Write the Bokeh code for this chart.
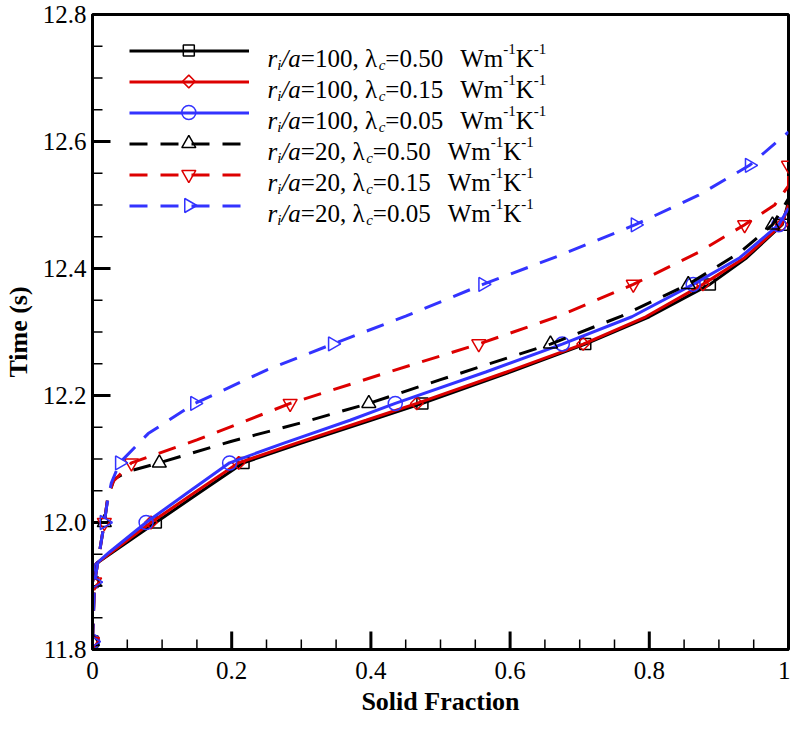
import numpy as np
from bokeh.plotting import figure
from bokeh.models import (Range1d, FixedTicker, PrintfTickFormatter, CustomJSTickFormatter,
                          Legend, LegendItem, ColumnDataSource)
from bokeh.core.properties import value
from bokeh.embed import file_html
from bokeh.resources import INLINE

# ---------------- data ----------------
# times at which the symbols are placed (s)
marker_time = [11.8125, 11.90625, 12.0, 12.09375, 12.1875, 12.28125, 12.375, 12.46875, 12.5625]

# r_i/a = 100 (solid lines)
t_100_050 = [11.906, 11.935, 11.954, 12.0, 12.048, 12.094, 12.125, 12.161, 12.1875, 12.237, 12.281, 12.324, 12.375, 12.417, 12.469, 12.505]
fs_100_050 = [0, 0.005, 0.03, 0.091, 0.155, 0.217, 0.3, 0.4, 0.474, 0.6, 0.708, 0.8, 0.887, 0.94, 0.991, 1.0]
t_100_015 = [11.906, 11.935, 11.954, 12.0, 12.048, 12.094, 12.125, 12.161, 12.1875, 12.237, 12.281, 12.324, 12.375, 12.417, 12.469, 12.500]
fs_100_015 = [0, 0.005, 0.028, 0.084, 0.148, 0.210, 0.293, 0.393, 0.466, 0.595, 0.705, 0.795, 0.877, 0.937, 0.990, 1.0]
t_100_005 = [11.906, 11.935, 11.954, 12.0, 12.048, 12.094, 12.125, 12.161, 12.1875, 12.237, 12.281, 12.324, 12.375, 12.417, 12.469, 12.495]
fs_100_005 = [0, 0.005, 0.025, 0.077, 0.138, 0.197, 0.275, 0.37, 0.435, 0.565, 0.675, 0.775, 0.863, 0.93, 0.986, 1.0]

# r_i/a = 20 (dashed lines)
t_20_050 = [11.8125, 11.906, 12.0, 12.04, 12.068, 12.08, 12.094, 12.128, 12.157, 12.1875, 12.225, 12.281, 12.325, 12.375, 12.425, 12.469, 12.51]
fs_20_050 = [0, 0.003, 0.017, 0.022, 0.031, 0.05, 0.096, 0.2, 0.3, 0.397, 0.5, 0.658, 0.76, 0.856, 0.93, 0.977, 1.0]
t_20_015 = [11.8125, 11.906, 12.0, 12.04, 12.065, 12.094, 12.13, 12.1875, 12.235, 12.281, 12.325, 12.375, 12.425, 12.469, 12.5, 12.53, 12.5625]
fs_20_015 = [0, 0.003, 0.017, 0.022, 0.03, 0.056, 0.15, 0.284, 0.42, 0.555, 0.67, 0.777, 0.87, 0.937, 0.98, 1.0, 1.0]
t_20_005 = [11.8125, 11.906, 12.0, 12.03, 12.062, 12.094, 12.14, 12.1875, 12.24, 12.281, 12.325, 12.375, 12.42, 12.469, 12.515, 12.5625, 12.615]
fs_20_005 = [0, 0.003, 0.017, 0.021, 0.027, 0.039, 0.08, 0.147, 0.25, 0.345, 0.45, 0.561, 0.67, 0.780, 0.87, 0.944, 1.0]

# symbol positions (solid fraction at marker_time)
mk_100_050 = [0, 0, 0.091, 0.217, 0.474, 0.708, 0.887, 0.991]
mk_100_015 = [0, 0, 0.084, 0.210, 0.466, 0.705, 0.877, 0.990]
mk_100_005 = [0, 0, 0.077, 0.197, 0.435, 0.675, 0.863, 0.986]
mk_20_050 = [0, 0.003, 0.017, 0.096, 0.397, 0.658, 0.856, 0.977]
mk_20_015 = [0, 0.003, 0.017, 0.056, 0.284, 0.555, 0.777, 0.937, 1.0]
mk_20_005 = [0, 0.003, 0.017, 0.039, 0.147, 0.345, 0.561, 0.780, 0.944]

ratio_labels = ["100", "100", "100", "20", "20", "20"]
lambda_labels = ["0.50", "0.15", "0.05", "0.50", "0.15", "0.05"]

x_ticks = [0, 0.2, 0.4, 0.6, 0.8, 1.0]
x_minor = [0.05, 0.1, 0.15, 0.25, 0.3, 0.35, 0.45, 0.5, 0.55, 0.65, 0.7, 0.75, 0.85, 0.9, 0.95]
y_ticks = [11.8, 12.0, 12.2, 12.4, 12.6, 12.8]
y_minor = [11.85, 11.9, 11.95, 12.05, 12.1, 12.15, 12.25, 12.3, 12.35, 12.45, 12.5, 12.55, 12.65, 12.7, 12.75]

X0, X1, Y0, Y1 = 0.0, 1.0, 11.8, 12.8
BLACK, RED, BLUE = "#000000", "#dd0000", "#3333ff"
SERIF = "Liberation Serif"

# ---------------- layout constants (screen px) ----------------
W, H = 790, 725
B_LEFT, B_RIGHT, B_TOP, B_BOTTOM = 87, 2, 14, 76
FRAME_W = W - B_LEFT - B_RIGHT
FRAME_H = H - B_TOP - B_BOTTOM
PAGE = 8
FRAME_LEFT, FRAME_TOP = PAGE + B_LEFT, PAGE + B_TOP
FRAME_BOTTOM = FRAME_TOP + FRAME_H


def sx2x(px):
    return X0 + (px - FRAME_LEFT) / FRAME_W * (X1 - X0)


def sy2y(py):
    return Y1 - (py - FRAME_TOP) / FRAME_H * (Y1 - Y0)


# ---------------- figure ----------------
p = figure(width=W, height=H, x_range=Range1d(X0, X1), y_range=Range1d(Y0, Y1),
           output_backend="svg", toolbar_location=None,
           min_border_left=B_LEFT, min_border_right=B_RIGHT,
           min_border_top=B_TOP, min_border_bottom=B_BOTTOM)
p.xgrid.visible = False
p.ygrid.visible = False
p.outline_line_color = "black"
p.outline_line_width = 3
p.outline_line_alpha = 1.0

for ax in (p.xaxis[0], p.yaxis[0]):
    ax.axis_line_width = 3
    ax.major_tick_in = 0
    ax.major_tick_out = 0
    ax.minor_tick_in = 0
    ax.minor_tick_out = 0
    ax.major_label_text_font = SERIF
    ax.major_label_text_font_size = "25px"
    ax.major_label_text_color = "black"
    ax.axis_label_text_font = SERIF
    ax.axis_label_text_font_style = "bold"
    ax.axis_label_text_font_size = "26px"
    ax.axis_label_text_color = "black"

p.xaxis.ticker = FixedTicker(ticks=x_ticks, minor_ticks=x_minor)
p.yaxis.ticker = FixedTicker(ticks=y_ticks, minor_ticks=y_minor)
p.xaxis.formatter = CustomJSTickFormatter(code="return Number.isInteger(tick) ? tick.toFixed(0) : tick.toFixed(1);")
p.yaxis.formatter = PrintfTickFormatter(format="%.1f")
p.xaxis.axis_label = "Solid Fraction"
p.yaxis.axis_label = "Time (s)"
p.xaxis.major_label_standoff = 12
p.xaxis.axis_label_standoff = 5
p.yaxis.major_label_standoff = 6
p.yaxis.axis_label_standoff = 7

# inward ticks
p.ray(x=x_ticks, y=[Y0] * len(x_ticks), length=18, length_units="screen", angle=np.pi / 2,
      line_color="black", line_width=3)
p.ray(x=x_minor, y=[Y0] * len(x_minor), length=10, length_units="screen", angle=np.pi / 2,
      line_color="black", line_width=1.5)
p.ray(x=[X0] * len(y_ticks), y=y_ticks, length=18, length_units="screen", angle=0,
      line_color="black", line_width=3)
p.ray(x=[X0] * len(y_minor), y=y_minor, length=10, length_units="screen", angle=0,
      line_color="black", line_width=1.5)

DASH = "18 13"
series = [
    (fs_100_050, t_100_050, mk_100_050, BLACK, "solid", "square", 11, 0.0),
    (fs_100_015, t_100_015, mk_100_015, RED, "solid", "square", 9, np.pi / 4),
    (fs_100_005, t_100_005, mk_100_005, BLUE, "solid", "circle", 14, 0.0),
    (fs_20_050, t_20_050, mk_20_050, BLACK, DASH, "triangle", 14, 0.0),
    (fs_20_015, t_20_015, mk_20_015, RED, DASH, "inverted_triangle", 14, 0.0),
    (fs_20_005, t_20_005, mk_20_005, BLUE, DASH, "triangle", 14, -np.pi / 2),
]

# legend geometry (screen px)
LEG_GLYPH_LEFT, LEG_GLYPH_W = 132, 120
LEG_ROW0, LEG_PITCH, LEG_PAD = 58, 31, 10
leg_rows = [LEG_ROW0 + LEG_PITCH * k for k in range(len(series))]
leg_box_top = LEG_ROW0 - LEG_PITCH / 2 - LEG_PAD
leg_box_h = LEG_PITCH * len(series) + 2 * LEG_PAD

items = []
for k, (fs, t, mk, col, dash, marker, size, ang) in enumerate(series):
    lr = p.line(fs, t, line_color=col, line_width=3, line_dash=dash)
    p.scatter(mk, marker_time[:len(mk)], marker=marker, size=size, angle=ang,
              line_color=col, line_width=1.5, fill_alpha=0)
    # legend symbol, placed at the middle of the legend sample line
    p.scatter([sx2x(LEG_GLYPH_LEFT + LEG_GLYPH_W / 2)], [sy2y(leg_rows[k])], marker=marker,
              size=size, angle=ang, line_color=col, line_width=1.5, fill_alpha=0)
    items.append(LegendItem(label=" ", renderers=[lr]))

legend = Legend(items=items,
                location=(LEG_GLYPH_LEFT - LEG_PAD - FRAME_LEFT, FRAME_BOTTOM - (leg_box_top + leg_box_h)),
                orientation="vertical",
                glyph_width=LEG_GLYPH_W, glyph_height=LEG_PITCH, label_height=LEG_PITCH, spacing=0,
                padding=LEG_PAD, margin=0, label_standoff=2,
                label_text_font_size="10px",
                background_fill_alpha=0, border_line_alpha=0)
p.add_layout(legend)

# ---------------- legend texts (runs with italics / sub / superscripts) ----------------
FSZ, SSZ = 25, 15
EM = {"0": .5, "1": .5, "2": .5, "5": .5, ".": .25, ",": .25, " ": .25, "=": .564,
      "λ": .55, "W": .944, "m": .778, "K": .722, "-": .333, "r": .389, "i": .278,
      "/": .278, "a": .5, "c": .444}


def width(s, size):
    return sum(EM.get(ch, 0.5) for ch in s) * size


runs = {"it": ([], [], []), "reg": ([], [], []), "sub": ([], [], []), "sup": ([], [], [])}


def put(kind, txt, xo, yo):
    runs[kind][0].append(txt)
    runs[kind][1].append(xo)
    runs[kind][2].append(yo)


for k, (rr, lam) in enumerate(zip(ratio_labels, lambda_labels)):
    base = leg_rows[k] + 8 - FRAME_TOP          # baseline offset from frame top
    x = 270 - FRAME_LEFT
    put("it", "r", x, base); x += width("r", FSZ)
    put("sub", "i", x, base + 6); x += width("i", SSZ)
    put("it", "/a", x, base); x += width("/a", FSZ)
    s = "=" + rr + ", λ"
    put("reg", s, x, base); x += width(s, FSZ)
    put("sub", "c", x, base + 6); x += width("c", SSZ)
    s = "=" + lam
    put("reg", s, x, base); x += width(s, FSZ) + 17
    put("reg", "Wm", x, base); x += width("Wm", FSZ)
    put("sup", "-1", x, base - 10); x += width("-1", SSZ)
    put("reg", "K", x, base); x += width("K", FSZ)
    put("sup", "-1", x, base - 10)

styles = {"it": ("italic", FSZ), "reg": ("normal", FSZ), "sub": ("italic", SSZ), "sup": ("normal", SSZ)}
for kind, (txts, xos, yos) in runs.items():
    src = ColumnDataSource(dict(x=[X0] * len(txts), y=[Y1] * len(txts), text=txts, xo=xos, yo=yos))
    st, sz = styles[kind]
    p.text(x="x", y="y", text="text", x_offset="xo", y_offset="yo", source=src,
           text_font=value(SERIF), text_font_size=value(f"{sz}px"), text_font_style=st,
           text_baseline="alphabetic", text_align="left", text_color="black")

open("out.html", "w").write(file_html(p, INLINE))
